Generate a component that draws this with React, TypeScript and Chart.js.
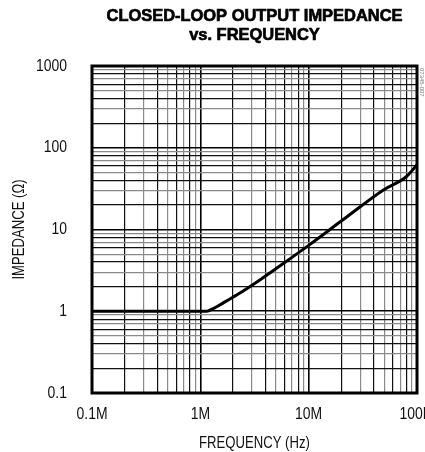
import React, { useEffect, useRef } from 'react';
import { Chart, registerables } from 'chart.js';

Chart.register(...registerables);

// ---- data ----
const FREQ_MHZ = [0.1, 0.5, 1.0, 1.15, 1.3, 1.6, 2.2, 3.6, 6.5, 10, 20, 49, 80, 100];
const IMPEDANCE_OHM = [1, 1, 1, 1.0, 1.07, 1.25, 1.6, 2.45, 4.25, 6.4, 12.7, 30.5, 44.5, 62];

const X_MAJOR = [0.1, 1, 10, 100];
const X_TICK_LABELS = ['0.1M', '1M', '10M', '100M'];
const Y_MAJOR = [0.1, 1, 10, 100, 1000];
const Y_TICK_LABELS = ['0.1', '1', '10', '100', '1000'];

const TITLE_LINES = ['CLOSED-LOOP OUTPUT IMPEDANCE', 'vs. FREQUENCY'];
const X_TITLE = 'FREQUENCY (Hz)';
const Y_TITLE = 'IMPEDANCE (\u03A9)';
const WATERMARK = '07345-007';

const FONT = "'Liberation Sans', Arial, sans-serif";
const NARROW = 0.82;

function logTicks(majors: number[]) {
  const out: { value: number; major: boolean }[] = [];
  for (let i = 0; i < majors.length - 1; i++) {
    for (let k = 1; k <= 9; k++) {
      out.push({ value: Number((majors[i] * k).toPrecision(8)), major: k === 1 });
    }
  }
  out.push({ value: majors[majors.length - 1], major: true });
  return out;
}

function labelFor(value: number, majors: number[], labels: string[]) {
  for (let i = 0; i < majors.length; i++) {
    if (Math.abs(value - majors[i]) < majors[i] * 1e-6) return labels[i];
  }
  return '';
}

function significand(v: number) {
  const e = Math.floor(Math.log10(v) + 1e-9);
  return Math.round(v / Math.pow(10, e));
}

function gridColor(ctx: any) {
  const v = ctx.tick ? ctx.tick.value : 1;
  const s = significand(v);
  if (s === 1) return '#000';
  return s % 2 === 0 ? '#111' : '#8a8a8a';
}
function gridWidth(ctx: any) {
  const v = ctx.tick ? ctx.tick.value : 1;
  return significand(v) === 1 ? 1.6 : 1.2;
}

// condensed text: every fillText on the chart canvas is squeezed horizontally about its anchor
const narrowTextPlugin = {
  id: 'narrowText',
  beforeDraw(chart: any) {
    const ctx = chart.ctx;
    if (ctx.__origFillText) return;
    const orig = ctx.fillText;
    ctx.__origFillText = orig;
    ctx.fillText = function (t: string, x: number, y: number, mw?: number) {
      this.save();
      this.translate(x, y);
      this.scale(NARROW, 1);
      if (mw === undefined) orig.call(this, t, 0, 0);
      else orig.call(this, t, 0, 0, mw / NARROW);
      this.restore();
    };
  },
};

const framePlugin = {
  id: 'frameAndTitle',
  afterDraw(chart: any) {
    const { ctx, chartArea: a } = chart;
    const fill = ctx.__origFillText || ctx.fillText;
    ctx.save();
    ctx.lineWidth = 3;
    ctx.strokeStyle = '#000';
    ctx.strokeRect(a.left, a.top, a.right - a.left, a.bottom - a.top);

    // title
    ctx.fillStyle = '#000';
    ctx.strokeStyle = '#000';
    ctx.lineWidth = 0.7;
    ctx.font = 'bold 17px ' + FONT;
    ctx.textAlign = 'center';
    ctx.textBaseline = 'alphabetic';
    const cx = (a.left + a.right) / 2;
    const w0 = ctx.measureText(TITLE_LINES[0]).width;
    const sx = 296 / w0;
    ctx.save();
    ctx.translate(cx, 0);
    ctx.scale(sx, 1);
    fill.call(ctx, TITLE_LINES[0], 0, 21);
    ctx.strokeText(TITLE_LINES[0], 0, 21);
    fill.call(ctx, TITLE_LINES[1], 0, 39.5);
    ctx.strokeText(TITLE_LINES[1], 0, 39.5);
    ctx.restore();

    // tiny rotated watermark at right edge
    ctx.save();
    ctx.translate(a.right + 5, a.top + 2);
    ctx.rotate(Math.PI / 2);
    ctx.font = '6px ' + FONT;
    ctx.fillStyle = '#777';
    ctx.textAlign = 'left';
    ctx.textBaseline = 'middle';
    fill.call(ctx, WATERMARK, 0, 0);
    ctx.restore();

    ctx.restore();
  },
};

export default function App() {
  const ref = useRef<HTMLCanvasElement | null>(null);

  useEffect(() => {
    if (!ref.current) return;
    const chart = new Chart(ref.current, {
      type: 'line',
      data: {
        datasets: [
          {
            data: FREQ_MHZ.map((f, i) => ({ x: f, y: IMPEDANCE_OHM[i] })),
            borderColor: '#000',
            borderWidth: 3,
            pointRadius: 0,
            cubicInterpolationMode: 'monotone',
            fill: false,
          },
        ],
      },
      options: {
        animation: false,
        responsive: false,
        devicePixelRatio: 1,
        layout: { padding: { left: 0, top: 66, right: 43, bottom: 0 } },
        plugins: { legend: { display: false }, tooltip: { enabled: false }, title: { display: false } },
        scales: {
          x: {
            type: 'logarithmic',
            min: 0.1,
            max: 100,
            afterBuildTicks: (s: any) => {
              s.ticks = logTicks(X_MAJOR);
            },
            afterFit: (s: any) => {
              s.height = 59;
            },
            ticks: {
              autoSkip: false,
              maxRotation: 0,
              minRotation: 0,
              padding: 11,
              color: '#111',
              font: { family: FONT, size: 17 },
              callback: (v: any) => labelFor(Number(v), X_MAJOR, X_TICK_LABELS),
            },
            grid: { color: gridColor, lineWidth: gridWidth, drawTicks: false },
            border: { display: false },
            title: {
              display: true,
              text: X_TITLE,
              color: '#111',
              font: { family: FONT, size: 16, lineHeight: 1 },
              padding: 0,
            },
          },
          y: {
            type: 'logarithmic',
            min: 0.1,
            max: 1000,
            afterBuildTicks: (s: any) => {
              s.ticks = logTicks(Y_MAJOR);
            },
            afterFit: (s: any) => {
              s.width = 92;
            },
            ticks: {
              autoSkip: false,
              padding: 25,
              color: '#111',
              font: { family: FONT, size: 17 },
              callback: (v: any) => labelFor(Number(v), Y_MAJOR, Y_TICK_LABELS),
            },
            grid: { color: gridColor, lineWidth: gridWidth, drawTicks: false },
            border: { display: false },
            title: {
              display: true,
              text: Y_TITLE,
              color: '#111',
              font: { family: FONT, size: 16, lineHeight: 1 },
              padding: 12,
            },
          },
        },
      },
      plugins: [narrowTextPlugin, framePlugin],
    } as any);
    return () => chart.destroy();
  }, []);

  return (
    <div
      style={{
        position: 'absolute',
        left: 0,
        top: 0,
        width: 425,
        height: 452,
        overflow: 'hidden',
        background: '#fff',
      }}
    >
      <canvas ref={ref} width={460} height={452} style={{ width: 460, height: 452, display: 'block' }} />
    </div>
  );
}
